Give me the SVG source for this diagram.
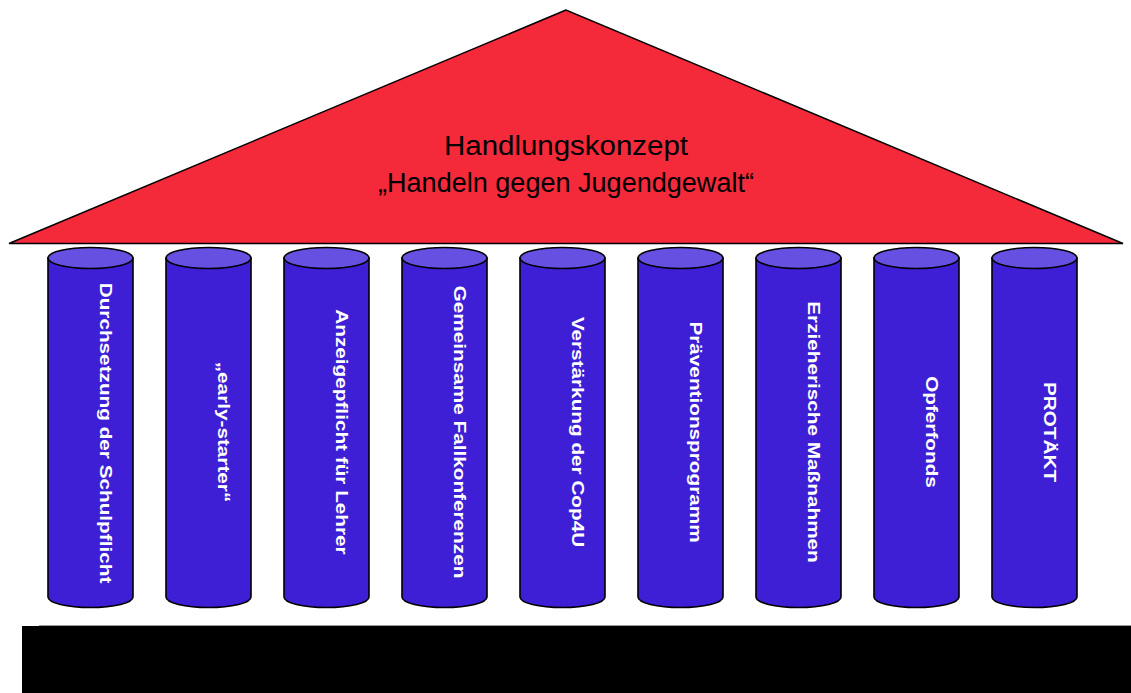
<svg xmlns="http://www.w3.org/2000/svg" width="1131" height="693" viewBox="0 0 1131 693">
  <style>
    .roof{fill:#F42A3A;stroke:#000;stroke-width:1.5;stroke-linejoin:miter}
    .body{fill:#3F1FD6;stroke:#000;stroke-width:1.6}
    .top{fill:#6550E2;stroke:#000;stroke-width:1.6}
    .lbl{font-family:"Liberation Sans",Arial,sans-serif;font-weight:bold;font-size:17px;fill:#fff;text-anchor:middle}
    .title{font-family:"Liberation Sans",Arial,sans-serif;font-size:27px;fill:#000;text-anchor:middle}
  </style>
  <defs>
    <g id="cyl">
      <path class="body" d="M-42.5,258 V597 A42.5,10.5 0 0 0 42.5,597 V258 Z"/>
      <ellipse class="top" cx="0" cy="258" rx="42.5" ry="10.5"/>
    </g>
  </defs>
  <rect width="1131" height="693" fill="#fff"/>
  <g id="roof">
    <polygon class="roof" points="566,10 9,243.5 1123,243.5"/>
    <text class="title" x="566" y="155" textLength="244" lengthAdjust="spacingAndGlyphs">Handlungskonzept</text>
    <text class="title" x="566" y="192" textLength="376" lengthAdjust="spacingAndGlyphs">„Handeln gegen Jugendgewalt“</text>
  </g>
  <g id="pillar1"><use href="#cyl" x="90.5"/><text class="lbl" transform="translate(100,433) rotate(90) scale(1.22,1)">Durchsetzung der Schulpflicht</text></g>
  <g id="pillar2"><use href="#cyl" x="208.5"/><text class="lbl" transform="translate(218,432) rotate(90) scale(1.22,1)">„early-starter“</text></g>
  <g id="pillar3"><use href="#cyl" x="326.5"/><text class="lbl" transform="translate(336,432) rotate(90) scale(1.22,1)">Anzeigepflicht für Lehrer</text></g>
  <g id="pillar4"><use href="#cyl" x="444.5"/><text class="lbl" transform="translate(454,432) rotate(90) scale(1.22,1)">Gemeinsame Fallkonferenzen</text></g>
  <g id="pillar5"><use href="#cyl" x="562.5"/><text class="lbl" transform="translate(572,432) rotate(90) scale(1.22,1)">Verstärkung der Cop4U</text></g>
  <g id="pillar6"><use href="#cyl" x="680.5"/><text class="lbl" transform="translate(690,432) rotate(90) scale(1.22,1)">Präventionsprogramm</text></g>
  <g id="pillar7"><use href="#cyl" x="798.5"/><text class="lbl" transform="translate(808,432) rotate(90) scale(1.22,1)">Erzieherische Maßnahmen</text></g>
  <g id="pillar8"><use href="#cyl" x="916.5"/><text class="lbl" transform="translate(926,432) rotate(90) scale(1.22,1)">Opferfonds</text></g>
  <g id="pillar9"><use href="#cyl" x="1034.5"/><text class="lbl" transform="translate(1044,432) rotate(90) scale(1.22,1)">PROTÄKT</text></g>
  <g id="base">
    <rect x="22" y="626" width="1109" height="67" fill="#000"/>
    <line x1="39" y1="625.5" x2="1131" y2="625.5" stroke="#999" stroke-width="1"/>
  </g>
</svg>
